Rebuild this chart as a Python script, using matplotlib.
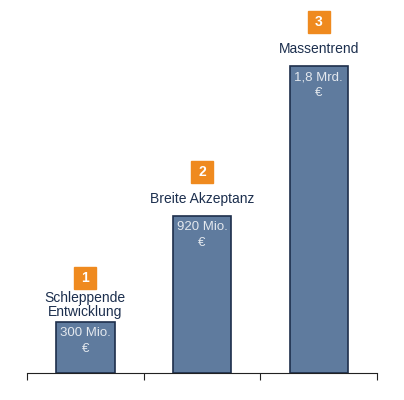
import matplotlib.pyplot as plt
from matplotlib.transforms import offset_copy

# Werte aus dem Bild (Mio. €)
phasen = ['Schleppende\nEntwicklung', 'Breite Akzeptanz', 'Massentrend']
nummern = ['1', '2', '3']
werte = [300, 920, 1800]
wert_labels = ['300 Mio.\n€', '920 Mio.\n€', '1,8 Mrd.\n€']

plt.rcParams['font.family'] = ['Liberation Sans', 'DejaVu Sans']

fig = plt.figure(figsize=(4.04, 4.00), dpi=100)
ax = fig.add_axes([27 / 404, 27 / 400, 350 / 404, 353 / 400])

x = range(len(werte))
ax.bar(x, werte, width=0.5, color='#5f7b9e', edgecolor='#1e2f4c', linewidth=1.2)

def versatz(dy):
    return offset_copy(ax.transData, fig=fig, x=0, y=dy, units='dots')

for i, (w, lab, ph, nr) in enumerate(zip(werte, wert_labels, phasen, nummern)):
    zeile1, zeile2 = lab.split('\n')
    ax.text(i, w, zeile1, transform=versatz(-11), ha='center', va='center',
            color='#e3e8ee', fontsize=9.5)
    ax.text(i, w, zeile2, transform=versatz(-27), ha='center', va='center',
            color='#e3e8ee', fontsize=9.5)
    ax.text(i, w, ph, transform=versatz(17), ha='center', va='center',
            color='#1c2f4e', fontsize=10, linespacing=1.05)
    ax.plot([i], [w], transform=versatz(44), marker='s', markersize=15.5,
            color='#ef8a1f', clip_on=False)
    ax.text(i, w, nr, transform=versatz(44), ha='center', va='center',
            color='white', fontsize=10, fontweight='bold')

ax.set_xlim(-0.5, 2.5)
ax.set_ylim(0, 2070)
for s in ['top', 'right', 'left']:
    ax.spines[s].set_visible(False)
ax.spines['bottom'].set_color('#222222')
ax.set_yticks([])
ax.set_xticks([-0.5, 0.5, 1.5, 2.5])
ax.set_xticklabels([])
ax.tick_params(axis='x', length=5, color='#222222', direction='out')

plt.savefig('out.png', dpi=100)
